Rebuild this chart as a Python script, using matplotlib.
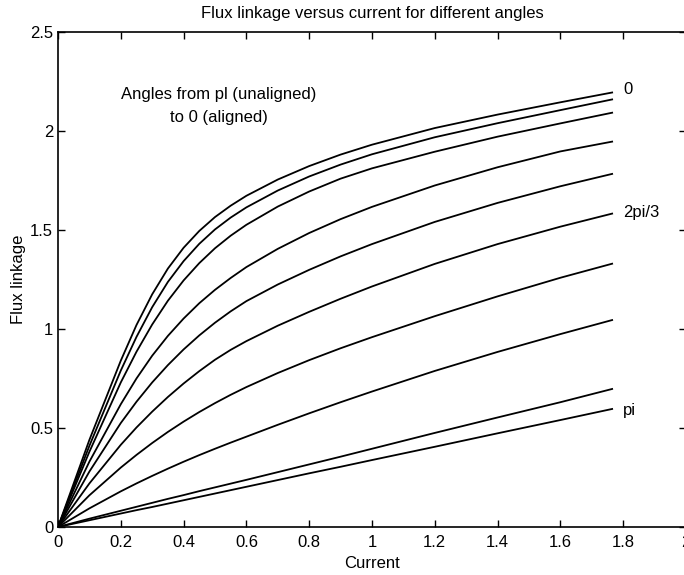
import numpy as np
import matplotlib
matplotlib.use("Agg")
import matplotlib.pyplot as plt

# current samples (A)
current = [0, 0.1, 0.2, 0.25, 0.3, 0.35, 0.4, 0.45, 0.5, 0.55, 0.6,
           0.7, 0.8, 0.9, 1.0, 1.2, 1.4, 1.6, 1.765]

# flux linkage per rotor angle, aligned (0) at top down to unaligned (pi)
flux_0 = [0, 0.44, 0.84, 1.02, 1.175, 1.305, 1.41, 1.495, 1.565, 1.6225, 1.6725,
          1.7545, 1.8225, 1.8805, 1.9305, 2.0145, 2.0825, 2.1445, 2.194]
flux_1 = [0, 0.41, 0.79, 0.96, 1.11, 1.2375, 1.3425, 1.43, 1.5025, 1.5625, 1.614,
          1.699, 1.77, 1.83, 1.882, 1.968, 2.039, 2.105, 2.159]
flux_2 = [0, 0.38, 0.73, 0.885, 1.0225, 1.1425, 1.245, 1.3325, 1.4075, 1.471, 1.526,
          1.618, 1.694, 1.759, 1.811, 1.895, 1.971, 2.038, 2.092]
flux_3 = [0, 0.33, 0.62, 0.75, 0.865, 0.965, 1.0525, 1.13, 1.1975, 1.2575, 1.3125,
          1.4045, 1.4845, 1.5545, 1.6165, 1.7245, 1.8165, 1.8965, 1.946]
flux_4 = [0, 0.28, 0.525, 0.6325, 0.73, 0.8175, 0.8965, 0.9675, 1.0315, 1.089, 1.1405,
          1.2245, 1.2985, 1.3665, 1.4285, 1.5405, 1.6365, 1.7205, 1.783]
flux_5 = [0, 0.22, 0.415, 0.5025, 0.5825, 0.6565, 0.7245, 0.787, 0.8445, 0.8945, 0.9385,
          1.0165, 1.0865, 1.1525, 1.2145, 1.3285, 1.4285, 1.5165, 1.5825]
flux_6 = [0, 0.16, 0.30, 0.364, 0.424, 0.48, 0.532, 0.5805, 0.6255, 0.6675, 0.7065,
          0.7775, 0.8425, 0.9025, 0.9585, 1.0645, 1.1645, 1.2585, 1.3295]
flux_7 = [0, 0.094, 0.18, 0.22, 0.258, 0.2945, 0.3295, 0.363, 0.395, 0.426, 0.456,
          0.516, 0.574, 0.63, 0.684, 0.788, 0.884, 0.974, 1.045]
flux_8 = [0, 0.042, 0.082, 0.102, 0.122, 0.142, 0.161, 0.181, 0.200, 0.219, 0.238,
          0.277, 0.316, 0.355, 0.395, 0.475, 0.553, 0.630, 0.697]
flux_9 = [0, 0.034, 0.068, 0.085, 0.101, 0.118, 0.135, 0.152, 0.169, 0.186, 0.203,
          0.237, 0.271, 0.304, 0.338, 0.405, 0.473, 0.540, 0.596]

curves = [flux_0, flux_1, flux_2, flux_3, flux_4, flux_5, flux_6, flux_7, flux_8, flux_9]

xticks = [0, 0.2, 0.4, 0.6, 0.8, 1, 1.2, 1.4, 1.6, 1.8, 2]
xticklabels = ["0", "0.2", "0.4", "0.6", "0.8", "1", "1.2", "1.4", "1.6", "1.8", "2"]
yticks = [0, 0.5, 1, 1.5, 2, 2.5]
yticklabels = ["0", "0.5", "1", "1.5", "2", "2.5"]


def main():
    plt.rcParams['font.family'] = ['Liberation Sans', 'DejaVu Sans']
    fig = plt.figure(figsize=(6.84, 5.75), dpi=100)
    # right spine sits just past the picture edge, as in the scan
    ax = fig.add_axes([0.0848, 0.0835, 0.918, 0.861])

    for fl in curves:
        ax.plot(current, fl, color='black', lw=1.3)

    ax.set_xlim(0, 2)
    ax.set_ylim(0, 2.5)
    ax.set_xticks(xticks)
    ax.set_xticklabels(xticklabels)
    ax.set_yticks(yticks)
    ax.set_yticklabels(yticklabels)
    ax.tick_params(direction='in', top=True, right=True, length=5, width=1,
                   labelsize=12)
    ax.tick_params(axis='x', pad=6)
    ax.tick_params(axis='y', pad=3.5)
    for s in ax.spines.values():
        s.set_linewidth(1.2)

    ax.set_title("Flux linkage versus current for different angles", fontsize=12, pad=10)
    ax.set_xlabel("Current", fontsize=12, labelpad=4)
    ax.set_ylabel("Flux linkage", fontsize=12, labelpad=3)

    ax.text(0.513, 2.185, "Angles from pl (unaligned)", ha='center', va='center', fontsize=12)
    ax.text(0.513, 2.07, "to 0 (aligned)", ha='center', va='center', fontsize=12)
    ax.text(1.80, 2.207, "0", ha='left', va='center', fontsize=12)
    ax.text(1.80, 1.59, "2pi/3", ha='left', va='center', fontsize=12)
    ax.text(1.80, 0.59, "pi", ha='left', va='center', fontsize=12)

    fig.savefig("out.png", dpi=100)


if __name__ == "__main__":
    main()
